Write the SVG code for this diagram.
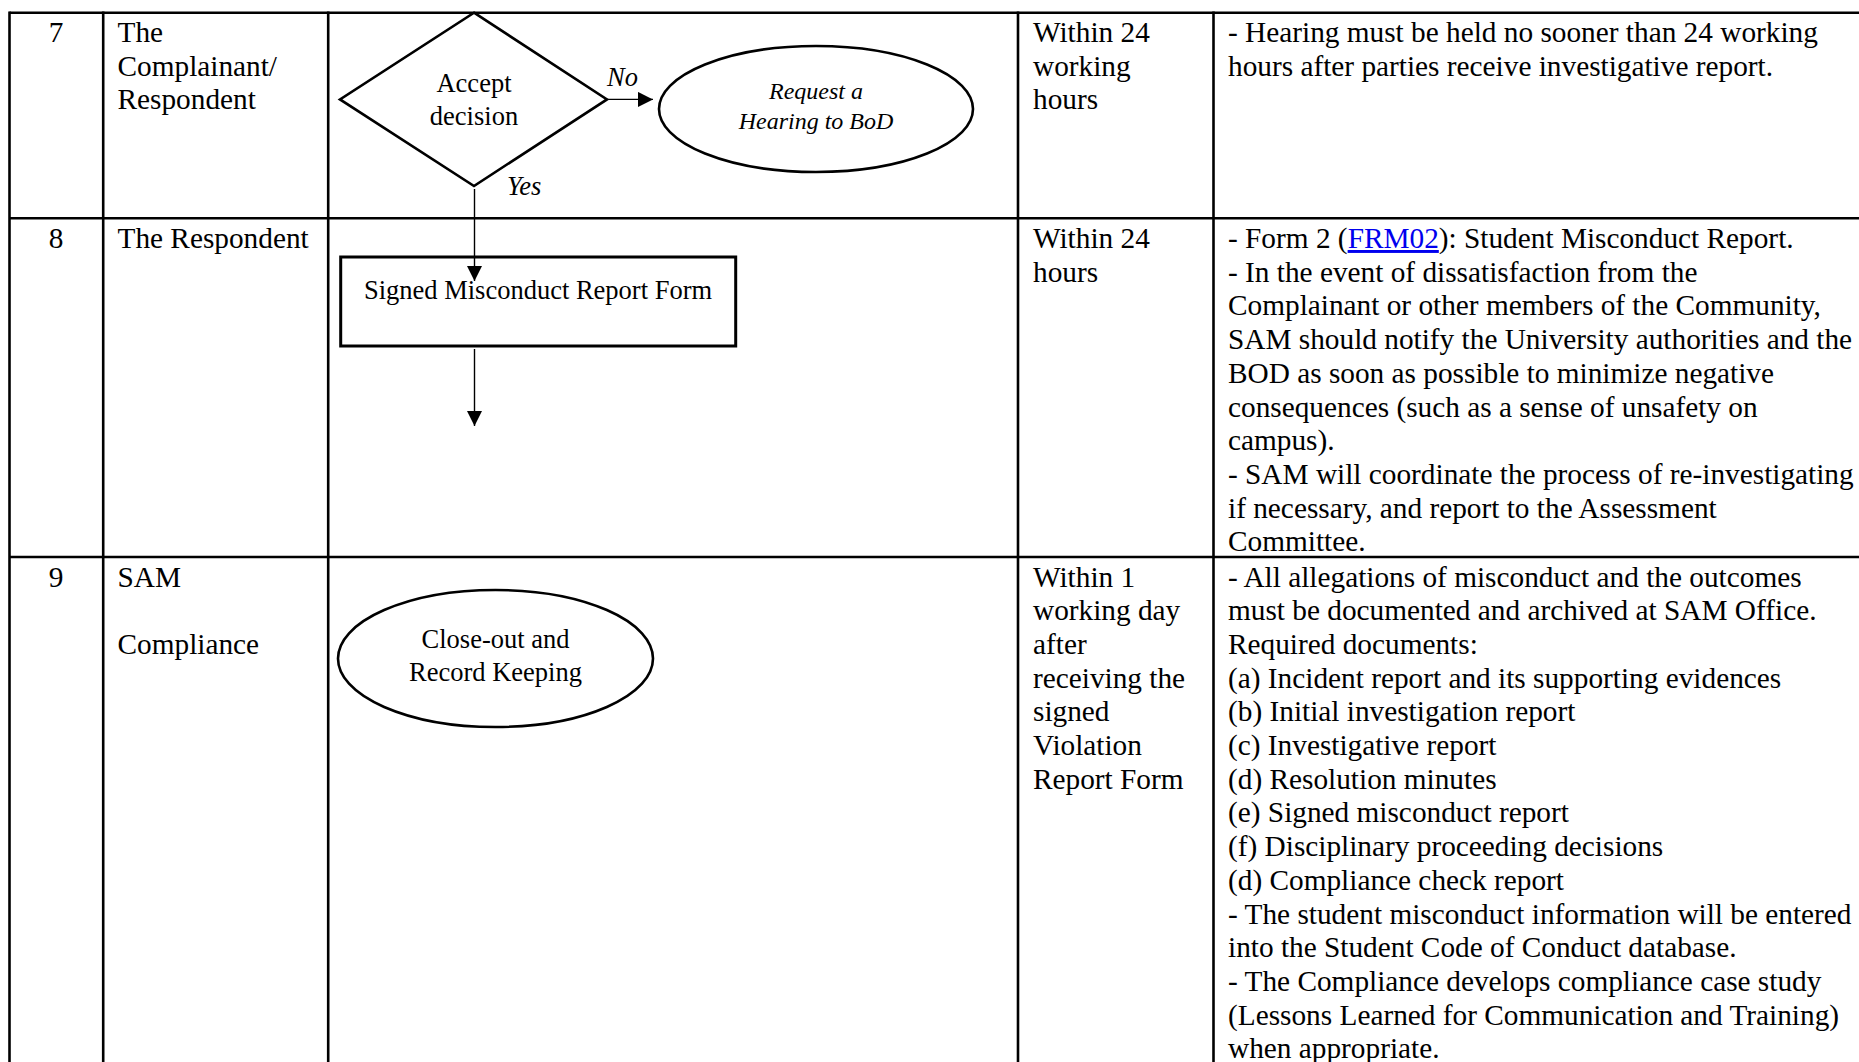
<svg xmlns="http://www.w3.org/2000/svg" width="1859" height="1062" viewBox="0 0 1859 1062">
<style>
.grid{stroke:#000;stroke-width:2.6;fill:none}
.t{font-family:"Liberation Serif","Times New Roman",serif;font-size:29.3px;fill:#000}
.f{font-family:"Liberation Serif","Times New Roman",serif;font-size:26.5px;fill:#000}
.i{font-family:"Liberation Serif","Times New Roman",serif;font-size:24px;font-style:italic;fill:#000}
.lbl{font-family:"Liberation Serif","Times New Roman",serif;font-size:26.5px;font-style:italic;fill:#000}
.shape{fill:#fff;stroke:#000;stroke-width:2.6}
.conn{stroke:#000;stroke-width:1.4;fill:none}
.mid{text-anchor:middle}
.link{fill:#0000ee;text-decoration:underline}
</style>
<defs>
<marker id="arr" markerUnits="userSpaceOnUse" markerWidth="16" markerHeight="16" refX="15" refY="7.5" orient="auto">
<path d="M0,0 L15,7.5 L0,15 Z" fill="#000"/>
</marker>
</defs>
<rect width="1859" height="1062" fill="#fff"/>
<g id="table">
<line class="grid" x1="9.5" y1="12.7" x2="1859" y2="12.7"/>
<line class="grid" x1="9.5" y1="218.3" x2="1859" y2="218.3"/>
<line class="grid" x1="9.5" y1="557" x2="1859" y2="557"/>
<line class="grid" x1="9.5" y1="11.4" x2="9.5" y2="1062"/>
<line class="grid" x1="103.2" y1="11.4" x2="103.2" y2="1062"/>
<line class="grid" x1="328.2" y1="11.4" x2="328.2" y2="1062"/>
<line class="grid" x1="1018" y1="11.4" x2="1018" y2="1062"/>
<line class="grid" x1="1213.5" y1="11.4" x2="1213.5" y2="1062"/>
</g>
<g id="row7-text" class="t">
<text class="mid" x="56" y="42">7</text>
<text x="117.5" y="42">The</text>
<text x="117.5" y="75.7">Complainant/</text>
<text x="117.5" y="109.4">Respondent</text>
<text x="1033" y="42">Within 24</text>
<text x="1033" y="75.7">working</text>
<text x="1033" y="109.4">hours</text>
<text x="1228" y="42">- Hearing must be held no sooner than 24 working</text>
<text x="1228" y="75.7">hours after parties receive investigative report.</text>
</g>
<g id="row8-text" class="t">
<text class="mid" x="56" y="248">8</text>
<text x="117.5" y="248">The Respondent</text>
<text x="1033" y="248">Within 24</text>
<text x="1033" y="281.7">hours</text>
<text x="1228" y="248">- Form 2 (<tspan class="link">FRM02</tspan>): Student Misconduct Report.</text>
<text x="1228" y="281.7">- In the event of dissatisfaction from the</text>
<text x="1228" y="315.4">Complainant or other members of the Community,</text>
<text x="1228" y="349.1">SAM should notify the University authorities and the</text>
<text x="1228" y="382.8">BOD as soon as possible to minimize negative</text>
<text x="1228" y="416.5">consequences (such as a sense of unsafety on</text>
<text x="1228" y="450.2">campus).</text>
<text x="1228" y="483.9">- SAM will coordinate the process of re-investigating</text>
<text x="1228" y="517.6">if necessary, and report to the Assessment</text>
<text x="1228" y="551.3">Committee.</text>
</g>
<g id="row9-text" class="t">
<text class="mid" x="56" y="586.5">9</text>
<text x="117.5" y="586.5">SAM</text>
<text x="117.5" y="653.9">Compliance</text>
<text x="1033" y="586.5">Within 1</text>
<text x="1033" y="620.2">working day</text>
<text x="1033" y="653.9">after</text>
<text x="1033" y="687.6">receiving the</text>
<text x="1033" y="721.3">signed</text>
<text x="1033" y="755">Violation</text>
<text x="1033" y="788.7">Report Form</text>
<text x="1228" y="586.5">- All allegations of misconduct and the outcomes</text>
<text x="1228" y="620.2">must be documented and archived at SAM Office.</text>
<text x="1228" y="653.9">Required documents:</text>
<text x="1228" y="687.6">(a) Incident report and its supporting evidences</text>
<text x="1228" y="721.3">(b) Initial investigation report</text>
<text x="1228" y="755">(c) Investigative report</text>
<text x="1228" y="788.7">(d) Resolution minutes</text>
<text x="1228" y="822.4">(e) Signed misconduct report</text>
<text x="1228" y="856.1">(f) Disciplinary proceeding decisions</text>
<text x="1228" y="889.8">(d) Compliance check report</text>
<text x="1228" y="923.5">- The student misconduct information will be entered</text>
<text x="1228" y="957.2">into the Student Code of Conduct database.</text>
<text x="1228" y="990.9">- The Compliance develops compliance case study</text>
<text x="1228" y="1024.6">(Lessons Learned for Communication and Training)</text>
<text x="1228" y="1058.3">when appropriate.</text>
</g>
<g id="node-accept">
<polygon class="shape" points="474,12.7 607,99.4 474,186 340,99.4"/>
<text class="f mid" x="474" y="92">Accept</text>
<text class="f mid" x="474" y="125">decision</text>
</g>
<g id="node-hearing">
<ellipse class="shape" cx="816" cy="109" rx="157" ry="63"/>
<text class="i mid" x="816" y="98.5">Request a</text>
<text class="i mid" x="816" y="128.5">Hearing to BoD</text>
</g>
<g id="node-signed">
<rect class="shape" x="340.7" y="257" width="395" height="89" style="stroke-width:3"/>
<text class="f mid" x="538" y="299">Signed Misconduct Report Form</text>
</g>
<g id="node-closeout">
<ellipse class="shape" cx="495.5" cy="658.5" rx="157.5" ry="68.5"/>
<text class="f mid" x="495.5" y="648">Close-out and</text>
<text class="f mid" x="495.5" y="681">Record Keeping</text>
</g>
<g id="connectors">
<line class="conn" x1="607" y1="99.4" x2="653" y2="99.4" marker-end="url(#arr)"/>
<line class="conn" x1="474.5" y1="189" x2="474.5" y2="281" marker-end="url(#arr)"/>
<line class="conn" x1="474.5" y1="349" x2="474.5" y2="426" marker-end="url(#arr)"/>
<text class="lbl" x="607" y="86">No</text>
<text class="lbl" x="507" y="195">Yes</text>
</g>
</svg>
